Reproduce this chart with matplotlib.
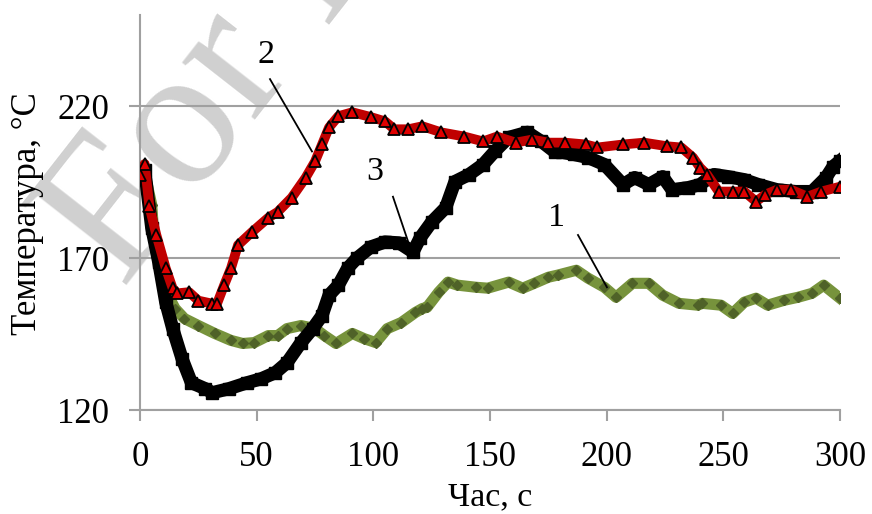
import numpy as np
import matplotlib.pyplot as plt

# curve 1 (green)
t1 = [0, 2, 5, 6, 9, 12, 15, 19, 25, 32, 39, 44, 49, 55, 59, 63, 69, 75, 79, 84, 91, 96, 101,
      106, 112, 118, 121, 123, 128, 132, 136, 144, 149, 158, 164, 169, 175, 179, 187, 192, 199,
      204, 211, 218, 224, 231, 239, 241, 249, 254, 259, 264, 269, 276, 282, 288, 293, 300]
v1 = [196, 198, 187.6, 176.6, 164.4, 157.8, 153.4, 150.1, 147.8, 145.2, 142.9, 141.9, 142.2,
      144.5, 144.5, 146.8, 147.8, 146.8, 144.5, 141.9, 145.2, 143.5, 142.2, 146.8, 148.8, 152.1,
      153.4, 153.8, 158.8, 162.1, 161.1, 160.4, 160.1, 162.1, 160.1, 161.7, 163.7, 164.4, 166,
      163.4, 160.4, 157.1, 161.7, 161.7, 157.8, 155.1, 154.5, 155.1, 154.5, 151.8, 155.5, 156.8,
      154.5, 156.1, 157.1, 158.4, 161.1, 156.8]

# curve 2 (red)
t2 = [0, 2, 4, 7, 11, 14, 16, 21, 25, 31, 33, 36, 39, 42, 48, 55, 59, 65, 71, 75, 78, 81, 85,
      91, 99, 105, 109, 115, 121, 129, 139, 147, 153, 161, 168, 175, 182, 191, 196, 207, 216,
      226, 232, 237, 240, 243, 248, 254, 259, 264, 268, 273, 279, 286, 292, 300]
v2 = [197.5, 201, 187, 177.6, 166.7, 160, 158.4, 158.8, 156, 155, 155, 161, 166.7, 174.3,
      178.6, 183.3, 185.2, 189.9, 196.5, 201.8, 207.4, 213, 216.7, 218, 216.4, 215, 212.4,
      212.4, 213.4, 211.4, 210, 208.4, 210, 208, 209, 208, 208, 207.4, 206.4, 207.4, 208,
      206.8, 206.4, 203.1, 199.8, 197.5, 191.9, 191.9, 191.9, 188.6, 190.9, 192.5, 192.5,
      190.2, 191.9, 193.5]

# curve 3 (black)
t3 = [0, 2, 5, 8, 11, 14, 18, 22, 28, 31, 38, 46, 52, 58, 63, 69, 74, 78, 81, 85, 89, 93, 99,
      105, 111, 117, 120, 125, 131, 135, 141, 147, 152, 158, 166, 172, 178, 181, 186, 192, 199,
      207, 212, 218, 224, 228, 235, 240, 246, 252, 259, 265, 273, 281, 288, 294, 297, 300]
v3 = [196.5, 199, 180, 168.7, 155.5, 146.8, 136.9, 129, 127, 125.7, 127, 129, 130.3, 132.3,
      135.6, 142.2, 146.8, 151.1, 157.8, 161.1, 166.7, 170, 173.7, 175.3, 175, 172, 176.6,
      181.9, 186.6, 195.2, 197.5, 200.8, 205.1, 209.7, 211.4, 208.4, 204.8, 204.8, 204.1,
      203.1, 200.8, 194.2, 196.5, 194.2, 196.8, 192.5, 193.2, 194.2, 197.5, 196.8, 195.8,
      194.2, 192.5, 191.9, 191.9, 196.5, 200.1, 202]

xticks = [0, 50, 100, 150, 200, 250, 300]
yticks = [120, 170, 220]

plt.rcParams['font.family'] = ['Liberation Serif', 'DejaVu Serif']

fig = plt.figure(figsize=(8.72, 5.14), dpi=100)
ax = fig.add_axes([0.1606, 0.2023, 0.8027, 0.7685])
ax.patch.set_alpha(0)

grey = '#a0a0a0'
ax.plot(t1, v1, color='#77933C', lw=8, marker='D', ms=5, mfc='#4F6228', mec='#4F6228', zorder=3)
ax.plot(t3, v3, color='black', lw=9.5, marker='s', ms=8, mfc='black', mec='black', zorder=4)
ax.plot(t2, v2, color='#C00000', lw=7, marker='^', ms=8, mfc='#E00000', mec='black', mew=1.3, zorder=5)

ax.set_xlim(0, 300)
ax.set_ylim(120, 250)
ax.set_xticks(xticks)
ax.set_yticks(yticks)
ax.grid(axis='y', color=grey, lw=1.5)
ax.set_axisbelow(True)
for s in ['top', 'right']:
    ax.spines[s].set_visible(False)
for s in ['left', 'bottom']:
    ax.spines[s].set_color(grey)
    ax.spines[s].set_linewidth(1.5)
ax.tick_params(axis='x', direction='out', length=8, width=1.5, color=grey, labelsize=25, pad=14)
ax.tick_params(axis='y', direction='out', length=8, width=1.5, color=grey, labelsize=25, pad=14)

ax.set_xlabel('Час, с', fontsize=24.5, labelpad=6)
fig.text(28 / 872, 1 - 214 / 514, 'Температура, °C', rotation=90, fontsize=25,
         ha='center', va='center')

# curve numbers with leader lines
ax.text(54, 237, '2', fontsize=24.5, ha='center', va='center')
ax.plot([55.7, 73.7], [228.9, 205.1], color='black', lw=1.3, zorder=6)
ax.text(100.7, 198.5, '3', fontsize=24.5, ha='center', va='center')
ax.plot([108.4, 115.7], [190.2, 173.6], color='black', lw=1.3, zorder=6)
ax.text(178.3, 183.2, '1', fontsize=24.5, ha='center', va='center')
ax.plot([187.7, 200.1], [177.6, 160.4], color='black', lw=1.3, zorder=6)

# watermark, behind the axes
fig.text(122 / 872, 1 - 290 / 514, 'For Peer Review', rotation=52, rotation_mode='anchor',
         fontsize=145, color='#d0d0d0', ha='left', va='baseline', zorder=-1)

fig.savefig('out.png', dpi=100, facecolor='white')
